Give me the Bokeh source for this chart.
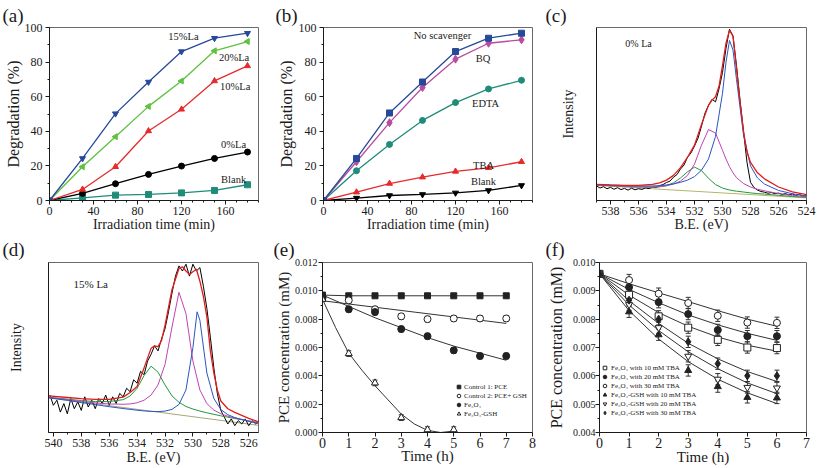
from math import pi
from bokeh.plotting import figure
from bokeh.models import (Range1d, SingleIntervalTicker, FixedTicker, NumeralTickFormatter,
                          Whisker, ColumnDataSource, Legend, LegendItem, TeeHead)
from bokeh.layouts import row, column
from bokeh.embed import file_html
from bokeh.resources import INLINE
from bokeh.core.properties import value

SERIF = "Liberation Serif"

# ---------------- (a) degradation vs La content ----------------
t_min = [0, 30, 60, 90, 120, 150, 180]
a_15La = [0, 24.3, 50.2, 68.5, 86.1, 93.8, 96.7]
a_20La = [0, 19.5, 36.9, 54.4, 69.1, 86.5, 91.9]
a_10La = [0, 6.4, 19.5, 40.2, 52.7, 69.1, 77.8]
a_0La = [0, 4.1, 9.7, 15.1, 19.9, 24.3, 28.0]
a_blank = [0, 1.5, 3.1, 3.5, 4.4, 5.8, 9.1]
a_labels = ["15%La", "20%La", "10%La", "0%La", "Blank"]
a_lab_x = [108, 154, 155, 156, 156]
a_lab_y = [94.6, 82.6, 65.8, 32.4, 12.2]

# ---------------- (b) scavengers ----------------
b_none = [0, 24.3, 50.6, 68.5, 86.1, 93.8, 96.7]
b_bq = [0, 22.4, 45.0, 65.3, 81.7, 90.9, 92.9]
b_edta = [0, 17.2, 32.4, 46.3, 56.6, 64.5, 69.5]
b_tba = [0, 4.8, 9.8, 13.5, 16.8, 18.9, 22.4]
b_blank = [0, 1.4, 2.9, 3.5, 4.4, 5.8, 8.7]
b_labels = ["No scavenger", "BQ", "EDTA", "TBA", "Blank"]
b_lab_x = [82, 138.5, 135, 136, 134]
b_lab_y = [95.2, 82.2, 56, 20.5, 11.2]

# ---------------- (c) XPS O1s 0% La ----------------
c_base_x = [539, 524]
c_base_y = [8.7, 1.5]
c_x = [539, 538, 537, 536, 535, 534.5, 534, 533.5, 533, 532.5, 532, 531.5, 531, 530.5, 530,
       529.75, 529.5, 529.25, 529, 528.5, 528, 527.5, 527, 526, 525, 524]
c_green = [8.9, 8.5, 8.1, 7.8, 7.7, 7.9, 8.6, 10.2, 13.0, 16.6, 19.3, 17.3, 12.8, 9.2, 7.2,
           6.6, 6.1, 5.7, 5.4, 4.9, 4.4, 4.0, 3.7, 3.0, 2.3, 1.8]
c_magenta = [9.0, 8.6, 8.2, 7.9, 7.8, 8.0, 8.5, 9.5, 11.2, 14.5, 21, 32, 41, 39, 29,
             24, 19.5, 16, 13.2, 9.8, 7.8, 6.5, 5.6, 4.0, 2.9, 2.1]
c_blue = [9.2, 8.9, 8.6, 8.4, 8.4, 8.6, 9.0, 9.6, 10.5, 11.8, 13.8, 17.5, 24, 37, 62,
          80, 92.5, 87, 70, 38, 20, 13, 9.5, 5.8, 3.9, 2.6]
c_red_x = [539, 538, 537, 536, 535, 534.5, 534, 533.5, 533, 532.5, 532, 531.5, 531, 530.75, 530.5,
           530.25, 530, 529.75, 529.5, 529.25, 529, 528.75, 528.5, 528.25, 528, 527.5, 527, 526, 525, 524]
c_red = [9.3, 9.0, 8.8, 8.8, 9.3, 10.2, 11.8, 14.5, 19, 25, 32, 44, 55, 58, 60,
         66, 78, 91, 98.5, 95, 76, 57, 40, 28, 22, 16, 12.5, 7.8, 5.0, 3.4]
c_raw_x = [539.0, 538.75, 538.5, 538.25, 538.0, 537.75, 537.5, 537.25, 537.0, 536.75, 536.5, 536.25,
           536.0, 535.75, 535.5, 535.25, 535.0, 534.75, 534.5, 534.25, 534.0, 533.75, 533.5, 533.25,
           533.0, 532.75, 532.5, 532.25, 532.0, 531.75, 531.5, 531.25, 531.0, 530.75, 530.5, 530.25,
           530.0, 529.75, 529.5, 529.25, 529.0, 528.75, 528.5, 528.25, 528.0, 527.75, 527.5, 527.25,
           527.0, 526.75, 526.5, 526.25, 526.0, 525.75, 525.5, 525.25, 525.0, 524.75, 524.5, 524.25, 524.0]
c_raw = [8.5, 7.2, 8.0, 6.8, 7.6, 6.5, 7.4, 6.3, 7.0, 6.0, 7.1, 6.2,
         6.8, 6.4, 7.3, 6.9, 7.8, 7.5, 8.6, 9.2, 10.4, 11.2, 13.5, 15.0,
         18.2, 20.5, 25.0, 27.5, 31.5, 36.0, 43.0, 50.5, 55.0, 58.5, 57.0, 64.5,
         74.0, 88.0, 99.0, 95.0, 78.0, 58.0, 40.0, 22.0, 10.5, 7.5, 6.0, 5.2,
         4.8, 4.2, 4.6, 3.9, 4.3, 3.5, 4.0, 3.2, 3.8, 2.8, 3.6, 2.2, 3.0]

# ---------------- (d) XPS O1s 15% La ----------------
d_base_x = [540.35, 525.3]
d_base_y = [20.5, 4.2]
d_x = [540.35, 539, 538, 537, 536, 535, 534.5, 534, 533.5, 533, 532.5, 532, 531.5, 531, 530.5, 530,
       529.5, 529, 528.5, 528, 527.5, 527, 526, 525.3]
d_green = [20.8, 19.6, 18.8, 18.2, 18.2, 19.3, 21.5, 26, 33.5, 39, 35.5, 28, 21.5, 17.8, 15.3, 13.8,
           12.6, 11.6, 10.7, 9.8, 9.0, 8.2, 6.8, 5.8]
d_magenta = [20.6, 19.3, 18.3, 17.4, 16.8, 16.6, 16.8, 17.5, 19, 22, 28, 40, 62, 82.5, 70, 42,
             25, 17, 13.2, 11, 9.6, 8.6, 6.8, 5.8]
d_blue_x = [540.35, 539, 538, 537, 536, 535, 534.5, 534, 533.5, 533, 532.5, 532, 531.5, 531, 530.5,
            530, 529.7, 529.5, 529, 528.5, 528, 527.5, 527, 526, 525.3]
d_blue = [20.4, 18.9, 17.6, 16.4, 15.2, 14.1, 13.6, 13.1, 12.7, 12.4, 12.3, 12.6, 13.6, 16.5, 25,
          50, 71, 66, 35, 20, 13.5, 10.5, 8.8, 6.5, 5.3]
d_red_x = [540.35, 539, 538, 537, 536, 535, 534.5, 534, 533.5, 533, 532.75, 532.5, 532.25, 532, 531.5,
           531, 530.75, 530.5, 530.25, 530, 529.75, 529.5, 529.25, 529, 528.75, 528.5, 528.25, 528,
           527.5, 527, 526, 525.3]
d_red = [21.5, 20.6, 19.9, 19.5, 19.5, 20.8, 23.5, 27, 38, 49.5, 51, 50.5, 54, 63, 84,
         96.5, 97.5, 95, 93, 94.5, 96, 89, 80, 68, 48, 35, 25, 18.5,
         14, 11.8, 8.3, 6.3]
d_raw_x = [540.25, 540.0, 539.75, 539.5, 539.25, 539.0, 538.75, 538.5, 538.25, 538.0, 537.75, 537.5,
           537.25, 537.0, 536.75, 536.5, 536.25, 536.0, 535.75, 535.5, 535.25, 535.0, 534.75, 534.5,
           534.25, 534.0, 533.75, 533.5, 533.25, 533.0, 532.75, 532.5, 532.25, 532.0, 531.75, 531.5,
           531.25, 531.0, 530.75, 530.5, 530.25, 530.0, 529.75, 529.5, 529.25, 529.0, 528.75, 528.5,
           528.25, 528.0, 527.75, 527.5, 527.25, 527.0, 526.75, 526.5, 526.25, 526.0, 525.75, 525.5, 525.25]
d_raw = [22, 16, 19, 12, 17, 11, 20, 14, 18, 13, 21, 15,
         19, 14, 20, 17, 22, 16, 21, 17, 23, 21, 26, 24,
         31, 29, 36, 34, 42, 46, 51, 48, 55, 61, 71, 82,
         92, 98, 95, 99, 92, 99, 95, 97, 86, 73, 56, 38,
         23, 13, 9, 5, 8, 4, 7, 5, 8, 4, 7, 5, 7]

# ---------------- (e) PCE removal ----------------
e_t = [0, 1, 2, 3, 4, 5, 6, 7]
e_ctrl1 = [0.0097, 0.00965, 0.00965, 0.00965, 0.00965, 0.00965, 0.00965, 0.00965]
e_ctrl2 = [0.0095, 0.00933, 0.0087, 0.0082, 0.0080, 0.00805, 0.00805, 0.00805]
e_fe = [0.0096, 0.0087, 0.0085, 0.0073, 0.0068, 0.0058, 0.0054, 0.0054]
e_t_gsh = [0, 1, 2, 3, 4, 5]
e_fegsh = [0.0094, 0.00557, 0.0035, 0.00105, 0.0002, 0.0002]
e_err = [0.0001, 0.0002, 0.0002, 0.0002, 0.0002, 0.0002, 0.0002, 0.0002]
e_err_gsh = [0.0001, 0.0002, 0.0002, 0.0002, 0.0002, 0.0002]
e_ctrl2_fit_t = [0, 7]
e_ctrl2_fit = [0.0093, 0.0077]
e_fe_fit_t = [0, 1, 2, 3, 4, 5, 6, 7]
e_fe_fit = [0.0097, 0.0089, 0.0081, 0.0074, 0.0067, 0.0061, 0.0056, 0.0051]
e_gsh_fit_t = [0, 0.5, 1, 1.5, 2, 2.5, 3, 3.5, 4, 4.5, 5]
e_gsh_fit = [0.0094, 0.0074, 0.0056, 0.0044, 0.0033, 0.0023, 0.0013, 0.0006, 0.00015, 0.0, 0.0001]
e_legend = ["Control 1: PCE", "Control 2: PCE+ GSH", "Fe\u2083O\u2084", "Fe\u2083O\u2084-GSH"]

# ---------------- (f) TBA effect ----------------
f_t = [0, 1, 2, 3, 4, 5, 6]
f_fe10 = [0.0096, 0.00886, 0.0081, 0.0077, 0.00727, 0.0070, 0.00698]
f_fe20 = [0.0096, 0.00913, 0.0086, 0.00818, 0.00762, 0.0074, 0.0074]
f_fe30 = [0.0096, 0.00938, 0.0089, 0.00857, 0.00812, 0.00788, 0.00787]
f_gsh10 = [0.0096, 0.00826, 0.00745, 0.00619, 0.00562, 0.00524, 0.00522]
f_gsh20 = [0.0096, 0.00851, 0.0077, 0.00669, 0.00588, 0.00559, 0.00557]
f_gsh30 = [0.0096, 0.00867, 0.0080, 0.0072, 0.00643, 0.0060, 0.0060]
f_err = [0.00005, 0.0002, 0.0002, 0.0002, 0.0002, 0.0002, 0.0002]
f_fit_fe10 = [0.0096, 0.00885, 0.00823, 0.00775, 0.00737, 0.00708, 0.00687]
f_fit_fe20 = [0.0096, 0.00905, 0.00858, 0.00815, 0.00780, 0.00750, 0.00725]
f_fit_fe30 = [0.0096, 0.00925, 0.00893, 0.00862, 0.00830, 0.00800, 0.00775]
f_fit_gsh10 = [0.0096, 0.0083, 0.0073, 0.0065, 0.00588, 0.0054, 0.00502]
f_fit_gsh20 = [0.0096, 0.0085, 0.0076, 0.00685, 0.00625, 0.00575, 0.00537]
f_fit_gsh30 = [0.0096, 0.00865, 0.00785, 0.00715, 0.00660, 0.00615, 0.0058]
f_legend = ["Fe\u2083O\u2084 with 10 mM TBA", "Fe\u2083O\u2084 with 20 mM TBA", "Fe\u2083O\u2084 with 30 mM TBA",
            "Fe\u2083O\u2084-GSH with 10 mM TBA", "Fe\u2083O\u2084-GSH with 20 mM TBA",
            "Fe\u2083O\u2084-GSH with 30 mM TBA"]

BLUE = "#27499a"
GREEN = "#5ec23e"
RED = "#e52b2b"
TEAL = "#1f8c7a"
MAGENTA = "#b94c9e"
INK = "#1a1a1a"


def make_fig(width, height, left, right, top, bottom, xr, yr, letter, letter_offset, letter_standoff):
    p = figure(width=width, height=height, min_border_left=left, min_border_right=right,
               min_border_top=top, min_border_bottom=bottom, x_range=xr, y_range=yr,
               output_backend="svg", toolbar_location=None)
    p.grid.visible = False
    p.outline_line_color = "#6a6a6a"
    p.outline_line_width = 1
    p.background_fill_color = "white"
    p.border_fill_color = "white"
    p.title.text = letter
    p.title.align = "left"
    p.title.offset = letter_offset
    p.title.standoff = letter_standoff
    p.title.text_font = SERIF
    p.title.text_font_size = "19px"
    p.title.text_font_style = "normal"
    p.title.text_color = INK
    p.axis.axis_line_color = INK
    p.axis.major_tick_line_color = INK
    p.axis.minor_tick_line_color = INK
    p.axis.major_tick_in = 0
    p.axis.major_tick_out = 4
    p.axis.minor_tick_in = 0
    p.axis.minor_tick_out = 2
    p.axis.major_label_text_font = SERIF
    p.axis.major_label_text_font_style = "normal"
    p.axis.major_label_text_color = INK
    p.axis.major_label_standoff = 3
    p.axis.axis_label_text_font = SERIF
    p.axis.axis_label_text_font_style = "normal"
    p.axis.axis_label_text_color = INK
    return p


# ---------- panel (a) ----------
pa = make_fig(272, 234, 49, 14, 27, 34, Range1d(0, 190), Range1d(0, 100), "(a)", -47, 4)
pa.xaxis.ticker = SingleIntervalTicker(interval=40, num_minor_ticks=4)
pa.yaxis.ticker = SingleIntervalTicker(interval=20, num_minor_ticks=2)
pa.xaxis.major_label_text_font_size = "12px"
pa.yaxis.major_label_text_font_size = "12px"
pa.xaxis.major_label_standoff = 2
pa.xaxis.axis_label = "Irradiation time (min)"
pa.xaxis.axis_label_text_font_size = "14px"
pa.xaxis.axis_label_standoff = -1
pa.yaxis.axis_label = "Degradation (%)"
pa.yaxis.axis_label_text_font_size = "16px"
pa.yaxis.axis_label_standoff = 0
for ys, col, mk, ang in [(a_blank, TEAL, "square", 0), (a_0La, "black", "circle", 0),
                         (a_10La, RED, "triangle", 0), (a_20La, GREEN, "triangle", pi / 2),
                         (a_15La, BLUE, "inverted_triangle", 0)]:
    pa.line(t_min, ys, line_color=col, line_width=1.3)
    pa.scatter(t_min, ys, marker=mk, size=6, angle=ang, fill_color=col, line_color=col)
pa.text(a_lab_x, a_lab_y, text=a_labels, text_font=value(SERIF), text_font_size=value("10.5px"),
        text_baseline="middle", text_align="left", text_color=INK)

# ---------- panel (b) ----------
pb = make_fig(272, 234, 51, 12, 27, 34, Range1d(0, 190), Range1d(0, 100), "(b)", -48, 4)
pb.xaxis.ticker = SingleIntervalTicker(interval=40, num_minor_ticks=4)
pb.yaxis.ticker = SingleIntervalTicker(interval=20, num_minor_ticks=2)
pb.xaxis.major_label_text_font_size = "12px"
pb.yaxis.major_label_text_font_size = "12px"
pb.xaxis.major_label_standoff = 2
pb.xaxis.axis_label = "Irradiation time (min)"
pb.xaxis.axis_label_text_font_size = "14px"
pb.xaxis.axis_label_standoff = -1
pb.yaxis.axis_label = "Degradation (%)"
pb.yaxis.axis_label_text_font_size = "16px"
pb.yaxis.axis_label_standoff = 1
for ys, col, mk in [(b_blank, "black", "inverted_triangle"), (b_tba, RED, "triangle"),
                    (b_edta, TEAL, "circle"), (b_bq, MAGENTA, "diamond"), (b_none, BLUE, "square")]:
    pb.line(t_min, ys, line_color=col, line_width=1.3)
    pb.scatter(t_min, ys, marker=mk, size=6 if mk != "diamond" else 8, fill_color=col, line_color=col)
pb.text(b_lab_x, b_lab_y, text=b_labels, text_font=value(SERIF), text_font_size=value("10.5px"),
        text_baseline="middle", text_align="left", text_color=INK)

# ---------- panel (c) ----------
pc = make_fig(273, 234, 52, 11, 27, 34, Range1d(539, 524), Range1d(0, 100), "(c)", -51, 4)
pc.xaxis.ticker = SingleIntervalTicker(interval=2, num_minor_ticks=2)
pc.xaxis.major_label_text_font_size = "12px"
pc.xaxis.major_label_standoff = 2
pc.xaxis.axis_label = "B.E. (eV)"
pc.xaxis.axis_label_text_font_size = "14px"
pc.xaxis.axis_label_standoff = -1
pc.yaxis.ticker = FixedTicker(ticks=[])
pc.yaxis.major_tick_out = 0
pc.yaxis.minor_tick_out = 0
pc.yaxis.major_label_standoff = 0
pc.yaxis.axis_label = "Intensity"
pc.yaxis.axis_label_text_font_size = "14px"
pc.yaxis.axis_label_standoff = 21
pc.line(c_base_x, c_base_y, line_color="#b8b46a", line_width=1)
pc.line(c_raw_x, c_raw, line_color="black", line_width=1)
pc.line(c_x, c_green, line_color="#1e9a3c", line_width=1)
pc.line(c_x, c_magenta, line_color="#c043b4", line_width=1)
pc.line(c_x, c_blue, line_color="#2a55c0", line_width=1)
pc.line(c_red_x, c_red, line_color="#e01d1d", line_width=1.3)
pc.text([536.94], [90.7], text=["0% La"], text_font=value(SERIF), text_font_size=value("10px"),
        text_baseline="middle", text_align="left", text_color=INK)

# ---------- panel (d) ----------
pd_ = make_fig(272, 234, 48, 14, 26, 36, Range1d(540.35, 525.3), Range1d(0, 100), "(d)", -46, 5)
pd_.xaxis.ticker = SingleIntervalTicker(interval=2, num_minor_ticks=2)
pd_.xaxis.major_label_text_font_size = "12px"
pd_.xaxis.major_label_standoff = 2
pd_.xaxis.axis_label = "B.E. (eV)"
pd_.xaxis.axis_label_text_font_size = "14px"
pd_.xaxis.axis_label_standoff = 0
pd_.yaxis.ticker = FixedTicker(ticks=[])
pd_.yaxis.major_tick_out = 0
pd_.yaxis.minor_tick_out = 0
pd_.yaxis.major_label_standoff = 0
pd_.yaxis.axis_label = "Intensity"
pd_.yaxis.axis_label_text_font_size = "14px"
pd_.yaxis.axis_label_standoff = 25
pd_.line(d_base_x, d_base_y, line_color="#a8a67a", line_width=1)
pd_.line(d_raw_x, d_raw, line_color="black", line_width=1)
pd_.line(d_x, d_green, line_color="#1e9a3c", line_width=1)
pd_.line(d_x, d_magenta, line_color="#c043b4", line_width=1)
pd_.line(d_blue_x, d_blue, line_color="#2a55c0", line_width=1)
pd_.line(d_red_x, d_red, line_color="#e01d1d", line_width=1.3)
pd_.text([538.56], [87.4], text=["15% La"], text_font=value(SERIF), text_font_size=value("11px"),
         text_baseline="middle", text_align="left", text_color=INK)


def whisk(p, xs, ys, errs):
    src = ColumnDataSource(dict(x=xs, up=[y + e for y, e in zip(ys, errs)],
                                lo=[y - e for y, e in zip(ys, errs)]))
    p.add_layout(Whisker(source=src, base="x", upper="up", lower="lo", line_color="#333333",
                         line_width=1, upper_head=TeeHead(size=5, line_color="#333333"),
                         lower_head=TeeHead(size=5, line_color="#333333")))


# ---------- panel (e) ----------
pe = make_fig(272, 234, 50, 12, 26, 36, Range1d(0, 8), Range1d(0, 0.012), "(e)", -49, 5)
pe.xaxis.ticker = SingleIntervalTicker(interval=1, num_minor_ticks=0)
pe.yaxis.ticker = SingleIntervalTicker(interval=0.002, num_minor_ticks=2)
pe.yaxis.formatter = NumeralTickFormatter(format="0.000")
pe.xaxis.major_label_text_font_size = "14px"
pe.yaxis.major_label_text_font_size = "10px"
pe.xaxis.major_label_standoff = 1
pe.yaxis.major_label_standoff = 1
pe.xaxis.axis_label = "Time (h)"
pe.xaxis.axis_label_text_font_size = "15px"
pe.xaxis.axis_label_standoff = -3
pe.yaxis.axis_label = "PCE concentration (mM)"
pe.yaxis.axis_label_text_font_size = "15px"
pe.yaxis.axis_label_standoff = 0
pe.line(e_t, e_ctrl1, line_color="#333333", line_width=1)
pe.line(e_ctrl2_fit_t, e_ctrl2_fit, line_color="#333333", line_width=1)
pe.line(e_fe_fit_t, e_fe_fit, line_color="#333333", line_width=1)
pe.line(e_gsh_fit_t, e_gsh_fit, line_color="#333333", line_width=1)
whisk(pe, e_t, e_ctrl2, e_err)
whisk(pe, e_t, e_fe, e_err)
whisk(pe, e_t_gsh, e_fegsh, e_err_gsh)
r1 = pe.scatter(e_t, e_ctrl1, marker="square", size=6, fill_color="#222222", line_color="#222222")
r2 = pe.scatter(e_t, e_ctrl2, marker="circle", size=7, fill_color="white", line_color="#222222")
r3 = pe.scatter(e_t, e_fe, marker="circle", size=7, fill_color="#222222", line_color="#222222")
r4 = pe.scatter(e_t_gsh, e_fegsh, marker="triangle", size=7, fill_color="white", line_color="#222222")
leg_e = Legend(items=[LegendItem(label=lab, renderers=[r]) for lab, r in zip(e_legend, [r1, r2, r3, r4])],
               location=(132, 14), glyph_width=9, glyph_height=9, label_height=9, spacing=0,
               padding=0, margin=0, label_standoff=1, label_text_font=SERIF,
               label_text_font_size="7px", label_text_color=INK, border_line_alpha=0,
               background_fill_alpha=0)
pe.add_layout(leg_e)

# ---------- panel (f) ----------
pf = make_fig(273, 234, 53, 11, 26, 36, Range1d(0, 7), Range1d(0.004, 0.010), "(f)", -54, 5)
pf.xaxis.ticker = SingleIntervalTicker(interval=1, num_minor_ticks=0)
pf.yaxis.ticker = SingleIntervalTicker(interval=0.001, num_minor_ticks=2)
pf.yaxis.formatter = NumeralTickFormatter(format="0.000")
pf.xaxis.major_label_text_font_size = "14px"
pf.yaxis.major_label_text_font_size = "10px"
pf.xaxis.major_label_standoff = 1
pf.yaxis.major_label_standoff = 0
pf.xaxis.axis_label = "Time (h)"
pf.xaxis.axis_label_text_font_size = "15px"
pf.xaxis.axis_label_standoff = -2
pf.yaxis.axis_label = "PCE concentration (mM)"
pf.yaxis.axis_label_text_font_size = "16px"
pf.yaxis.axis_label_standoff = 5
for fit in (f_fit_fe10, f_fit_fe20, f_fit_fe30, f_fit_gsh10, f_fit_gsh20, f_fit_gsh30):
    pf.line(f_t, fit, line_color="#333333", line_width=1)
for ys in (f_fe10, f_fe20, f_fe30, f_gsh10, f_gsh20, f_gsh30):
    whisk(pf, f_t, ys, f_err)
rf = []
for ys, mk, filled in [(f_fe10, "square", False), (f_fe20, "circle", True), (f_fe30, "circle", False),
                       (f_gsh10, "triangle", True), (f_gsh20, "inverted_triangle", False),
                       (f_gsh30, "diamond", True)]:
    rf.append(pf.scatter(f_t, ys, marker=mk, size=7 if mk != "diamond" else 8,
                         fill_color="#222222" if filled else "white", line_color="#222222"))
leg_f = Legend(items=[LegendItem(label=lab, renderers=[r]) for lab, r in zip(f_legend, rf)],
               location=(1, 15), glyph_width=9, glyph_height=9, label_height=9, spacing=0,
               padding=0, margin=0, label_standoff=2, label_text_font=SERIF,
               label_text_font_size="7px", label_text_color=INK, border_line_alpha=0,
               background_fill_alpha=0)
pf.add_layout(leg_f)

layout = column(row(pa, pb, pc), row(pd_, pe, pf))
open("out.html", "w").write(file_html(layout, INLINE))
